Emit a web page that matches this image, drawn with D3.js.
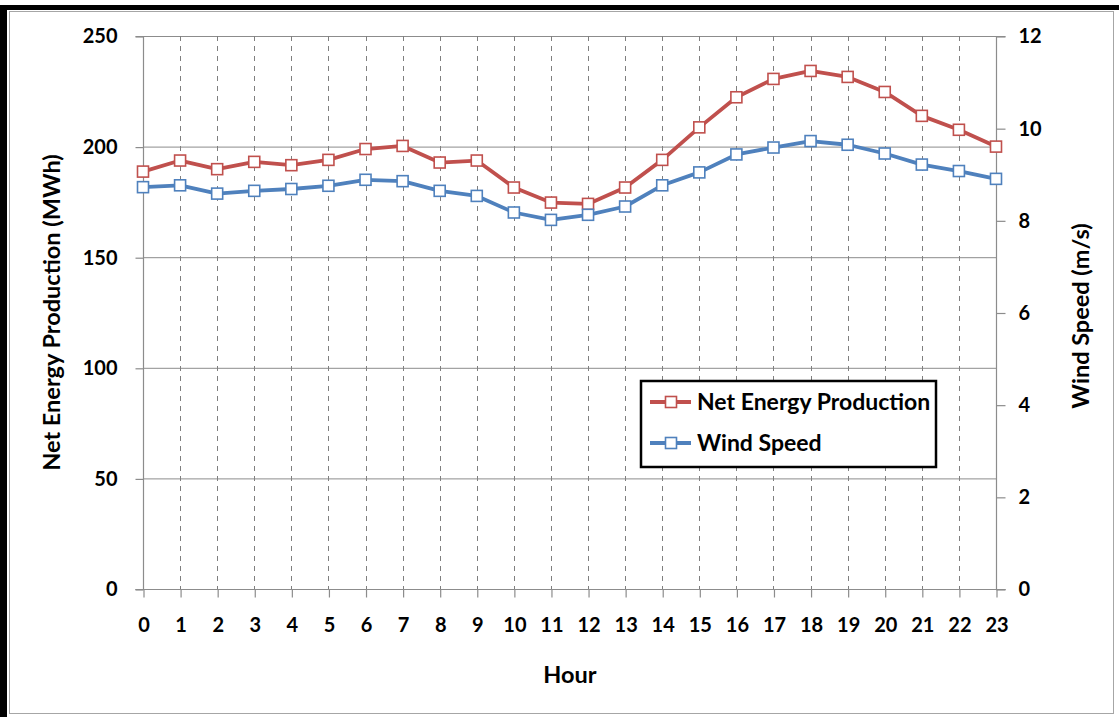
<!DOCTYPE html>
<html>
<head>
<meta charset="utf-8">
<script src="https://cdn.jsdelivr.net/npm/d3@7"></script>
<style>
  body { margin: 0; background: #fff; }
  text { font-family: Lato, "Open Sans", sans-serif; }
</style>
</head>
<body>
<div id="chart"></div>
<script>
const width = 1119;
const height = 717;
const margin = {top: 36, right: 121, bottom: 128, left: 143};

// data
const hours = d3.range(0, 24);
const energy = [188.7, 193.7, 189.8, 193.1, 191.6, 194.0, 198.9, 200.3, 192.8, 193.7, 181.5, 174.7,
                174.1, 181.5, 194.0, 208.7, 222.3, 230.6, 234.2, 231.5, 224.7, 213.9, 207.6, 200.0];
const wind = [8.72, 8.76, 8.58, 8.64, 8.68, 8.75, 8.88, 8.85, 8.64, 8.53, 8.17, 8.01,
              8.12, 8.30, 8.76, 9.04, 9.43, 9.58, 9.72, 9.64, 9.45, 9.21, 9.07, 8.90];
const leftTicks = [0, 50, 100, 150, 200, 250];
const rightTicks = [0, 2, 4, 6, 8, 10, 12];
const seriesNames = ["Net Energy Production", "Wind Speed"];
const seriesColors = ["#c0504d", "#4f81bd"];

const x0 = margin.left, x1 = width - margin.right - 2;
const y0 = height - margin.bottom, y1 = margin.top;

const svg = d3.select("#chart").append("svg")
  .attr("width", width)
  .attr("height", height);

// outer frame
svg.append("rect").attr("x", 0).attr("y", 0).attr("width", width).attr("height", height).attr("fill", "#fff");
svg.append("rect").attr("x", 0).attr("y", 5).attr("width", width).attr("height", 5).attr("fill", "#000");
svg.append("rect").attr("x", 0).attr("y", 5).attr("width", 7).attr("height", height).attr("fill", "#000");
svg.append("rect").attr("x", 9.5).attr("y", 11.5).attr("width", 1104).attr("height", 702)
  .attr("fill", "#fff").attr("stroke", "#a6a6a6").attr("stroke-width", 1);

const xScale = d3.scalePoint().domain(hours).range([x0, x1]);
const yLeft = d3.scaleLinear().domain([0, 250]).range([y0, y1]);
const yRight = d3.scaleLinear().domain([0, 12]).range([y0, y1]);

// horizontal grid
svg.append("g").selectAll("line").data(leftTicks).join("line")
  .attr("x1", x0).attr("x2", x1)
  .attr("y1", d => yLeft(d) + 0.5).attr("y2", d => yLeft(d) + 0.5)
  .attr("stroke", "#8c8c8c").attr("stroke-width", 1);

// vertical dashed grid
svg.append("g").selectAll("line").data(hours.slice(1, -1)).join("line")
  .attr("x1", d => Math.round(xScale(d)) + 0.5).attr("x2", d => Math.round(xScale(d)) + 0.5)
  .attr("y1", y1).attr("y2", y0)
  .attr("stroke", "#7f7f7f").attr("stroke-width", 1).attr("stroke-dasharray", "5,5");

// axes
const axisLeft = d3.axisLeft(yLeft).tickValues(leftTicks).tickSize(8).tickPadding(18);
const axisRight = d3.axisRight(yRight).tickValues(rightTicks).tickSize(9).tickPadding(13);
const axisBottom = d3.axisBottom(xScale).tickSize(8).tickPadding(20);

const gl = svg.append("g").attr("transform", `translate(${x0 + 0.5},0.5)`).call(axisLeft);
const gr = svg.append("g").attr("transform", `translate(${x1 + 0.5},0.5)`).call(axisRight);
const gb = svg.append("g").attr("transform", `translate(0.5,${y0 + 0.5})`).call(axisBottom);

[gl, gr, gb].forEach(g => {
  g.select(".domain").attr("stroke", "#8c8c8c").attr("stroke-width", 1.2);
  g.selectAll(".tick line").attr("stroke", "#8c8c8c").attr("stroke-width", 1.2);
  g.selectAll(".tick text")
    .attr("fill", "#000")
    .style("font-family", "Lato, sans-serif")
    .style("font-size", "20px")
    .style("font-weight", "bold");
});
gl.select(".domain").attr("d", `M-8,${y1}H0V${y0}H-8`);
gr.select(".domain").attr("d", `M9,${y1}H0V${y0}H9`);
gb.select(".domain").attr("d", `M${x0 - 8},0H${x1 + 9}`);

// series lines and markers
const series = [energy, wind];
const scales = [yLeft, yRight];
series.forEach((vals, i) => {
  const line = d3.line()
    .x((d, j) => xScale(hours[j]))
    .y(d => scales[i](d));
  svg.append("path")
    .datum(vals)
    .attr("d", line)
    .attr("fill", "none")
    .attr("stroke", seriesColors[i])
    .attr("stroke-width", 3.8)
    .attr("stroke-linejoin", "round");
  svg.append("g").selectAll("rect").data(vals).join("rect")
    .attr("x", (d, j) => xScale(hours[j]) - 5.5)
    .attr("y", d => scales[i](d) - 5.5)
    .attr("width", 11).attr("height", 11)
    .attr("fill", "#fff")
    .attr("stroke", seriesColors[i])
    .attr("stroke-width", 1.6);
});

// axis titles
svg.append("text")
  .attr("transform", `translate(60,${(y0 + y1) / 2}) rotate(-90)`)
  .attr("text-anchor", "middle")
  .style("font-size", "23.5px").style("font-weight", "bold")
  .text("Net Energy Production (MWh)");

svg.append("text")
  .attr("transform", `translate(1089,316) rotate(-90)`)
  .attr("text-anchor", "middle")
  .style("font-size", "23.5px").style("font-weight", "bold")
  .text("Wind Speed (m/s)");

svg.append("text")
  .attr("x", 570).attr("y", 683)
  .attr("text-anchor", "middle")
  .style("font-size", "23.5px").style("font-weight", "bold")
  .text("Hour");

// legend
const legend = svg.append("g").attr("transform", "translate(641,381)");
legend.append("rect")
  .attr("width", 295).attr("height", 86)
  .attr("fill", "#fff").attr("stroke", "#000").attr("stroke-width", 2.5);
seriesNames.forEach((name, i) => {
  const ly = 21 + i * 41;
  legend.append("line")
    .attr("x1", 9).attr("x2", 50).attr("y1", ly).attr("y2", ly)
    .attr("stroke", seriesColors[i]).attr("stroke-width", 3.8);
  legend.append("rect")
    .attr("x", 24.5).attr("y", ly - 5.5).attr("width", 11).attr("height", 11)
    .attr("fill", "#fff").attr("stroke", seriesColors[i]).attr("stroke-width", 1.6);
  legend.append("text")
    .attr("x", 56).attr("y", ly + 8)
    .style("font-size", "23px").style("font-weight", "bold")
    .text(name);
});
</script>
</body>
</html>
